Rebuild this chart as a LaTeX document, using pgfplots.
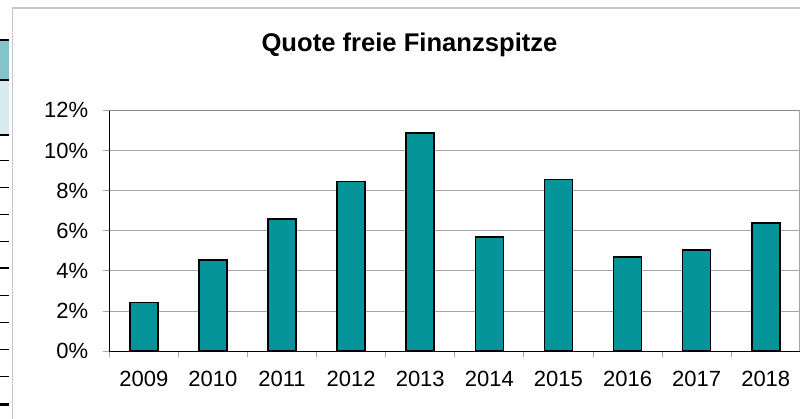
\documentclass[border=0pt]{standalone}
\usepackage{pgfplots}
\pgfplotsset{compat=1.18}
\usepackage{fontspec}
\setmainfont{Liberation Sans}
\definecolor{barteal}{RGB}{4,148,153}
\definecolor{gridgray}{RGB}{165,165,165}
\definecolor{framegray}{RGB}{136,136,136}
\definecolor{bordergray}{RGB}{200,200,200}
\definecolor{cellA}{RGB}{134,196,204}
\definecolor{cellB}{RGB}{214,235,238}
\begin{document}
\begin{tikzpicture}[x=1pt,y=1pt]
\useasboundingbox (0,0) rectangle (800,419);
\fill[white] (0,0) rectangle (800,419);
% left strip (cut-off table)
\fill[cellA] (0,378) rectangle (9,340);
\fill[cellB] (0,338) rectangle (9,284);
\foreach \yy/\w in {379/2.2, 339/1.5, 284/1.2, 258/1, 231/1, 204/1, 177/1, 151/2.2, 123/1, 96/1, 69/1, 42/1, 14/3}
  \draw[line width=\w pt] (0,\yy) -- (9,\yy);
% chart frame
\draw[bordergray, line width=1pt] (12.3,0) -- (12.3,411);
\draw[bordergray, line width=2pt] (12.3,411) -- (800,411);
\node[anchor=base, font=\bfseries\fontsize{25.6}{30}\selectfont] at (409.5,367.3) {Quote freie Finanzspitze};
\begin{axis}[
  at={(109.3pt,67.7pt)}, anchor=south west, scale only axis,
  width=691pt, height=241pt,
  xmin=-0.5, xmax=9.5, ymin=0, ymax=12,
  enlargelimits=false,
  axis x line*=bottom, axis y line*=left,
  axis line style={black, line width=1.5pt},
  ybar, bar width=28pt,
  ytick={0,2,...,12},
  yticklabel={\pgfmathprintnumber{\tick}\%},
  xtick={0,...,9},
  xticklabels={2009,2010,2011,2012,2013,2014,2015,2016,2017,2018},
  minor xtick={-0.5,0.5,...,9.5},
  tick align=outside,
  major tick length=6pt, minor tick length=6pt,
  major x tick style={draw=none},
  tick style={gridgray, line width=1pt},
  ymajorgrids, grid style={gridgray, line width=1pt},
  tick label style={font=\fontsize{22}{26}\selectfont, inner sep=0pt},
  yticklabel style={anchor=east, xshift=-15pt},
  xticklabel style={anchor=north, yshift=-14pt},
  /pgf/number format/assume math mode=true,
]
\addplot[fill=barteal, draw=black, line width=1.6pt] coordinates {
  (0,2.43) (1,4.56) (2,6.59) (3,8.46) (4,10.86)
  (5,5.68) (6,8.56) (7,4.71) (8,5.04) (9,6.40)
};
\end{axis}
\draw[framegray, line width=1.5pt] (109.3,308.7) -- (800,308.7);
\draw[gridgray, line width=1pt] (799,67.7) -- (799,308.7);
\end{tikzpicture}
\end{document}
